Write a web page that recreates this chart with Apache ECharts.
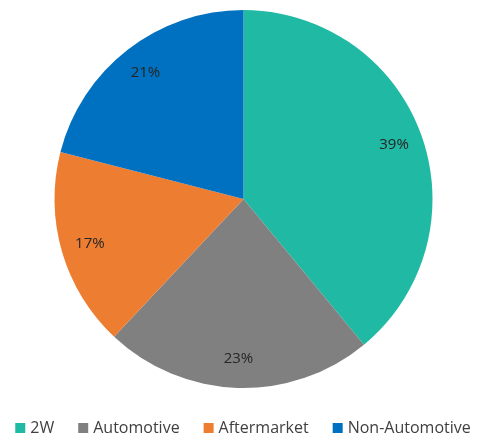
<!DOCTYPE html>
<html>
<head>
<meta charset="utf-8">
<script src="https://cdn.jsdelivr.net/npm/echarts@6/dist/echarts.min.js"></script>
<style>
  html, body { margin: 0; padding: 0; background: #ffffff; }
  #chart { width: 486px; height: 435px; }
</style>
</head>
<body>
<div id="chart"></div>
<script>
  var categories = ['2W', 'Automotive', 'Aftermarket', 'Non-Automotive'];
  var values = [39, 23, 17, 21];
  var colors = ['#20B9A4', '#808080', '#ED7D31', '#0070C0'];

  var pieData = categories.map(function (name, i) {
    return { name: name, value: values[i] };
  });

  var myChart = echarts.init(document.getElementById('chart'));
  var option = {
    color: colors,
    legend: {
      top: 415,
      left: 'center',
      icon: 'rect',
      itemWidth: 10,
      itemHeight: 10,
      itemGap: 24,
      selectedMode: false,
      textStyle: {
        fontFamily: 'Open Sans',
        fontSize: 16,
        color: '#404040'
      },
      data: categories
    },
    series: [
      {
        type: 'pie',
        center: [243.5, 199],
        radius: [0, 189],
        startAngle: 90,
        animation: false,
        silent: true,
        label: { show: false },
        labelLine: { show: false },
        itemStyle: { borderWidth: 0 },
        data: pieData
      },
      {
        // labels only, placed at about 0.83 of the radius
        type: 'pie',
        center: [243.5, 199],
        radius: [140, 174],
        startAngle: 90,
        animation: false,
        silent: true,
        legendHoverLink: false,
        itemStyle: { color: 'rgba(0,0,0,0)' },
        label: {
          show: true,
          position: 'inside',
          formatter: '{c}%',
          fontFamily: 'Open Sans',
          fontSize: 15,
          color: '#262626'
        },
        labelLine: { show: false },
        data: pieData
      }
    ]
  };
  myChart.setOption(option);
</script>
</body>
</html>
